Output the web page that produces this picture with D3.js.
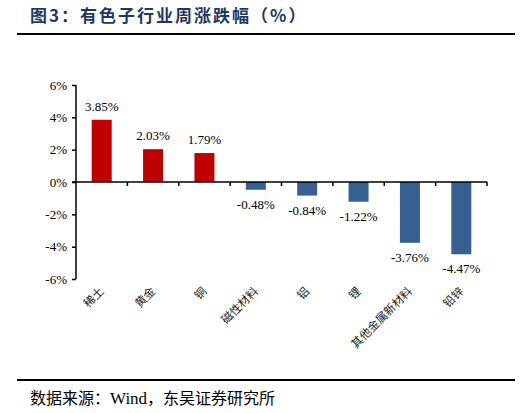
<!DOCTYPE html>
<html lang="zh">
<head>
<meta charset="UTF-8">
<title>有色子行业周涨跌幅</title>
<style>
  body { margin: 0; background: #fff; }
</style>
</head>
<body>
<script src="https://d3js.org/d3.v7.min.js"></script>
<script>

  // data
  var categories = ["稀土", "黄金", "铜", "磁性材料", "铝", "锂", "其他金属新材料", "铅锌"];
  var changes = [3.85, 2.03, 1.79, -0.48, -0.84, -1.22, -3.76, -4.47];
  var yTicks = [-6, -4, -2, 0, 2, 4, 6];

  var W = 522, H = 413;
  var cjk = "'Noto Sans CJK SC', sans-serif";
  var serif = "'Liberation Serif', 'Times New Roman', serif";

  var svg = d3.select("body").append("svg")
      .attr("width", W)
      .attr("height", H);

  // title and rules
  svg.append("text")
      .attr("x", 30).attr("y", 22)
      .style("font-family", cjk)
      .style("font-size", "17px")
      .style("font-weight", "bold")
      .style("letter-spacing", "2px")
      .style("fill", "#1f3864")
      .text("图3：有色子行业周涨跌幅（%）");

  svg.append("line")
      .attr("x1", 17).attr("x2", 515).attr("y1", 34).attr("y2", 34)
      .attr("stroke", "#000").attr("stroke-width", 2);

  svg.append("line")
      .attr("x1", 17).attr("x2", 515).attr("y1", 380).attr("y2", 380)
      .attr("stroke", "#000").attr("stroke-width", 2);

  var src = svg.append("text")
      .attr("x", 30).attr("y", 404)
      .style("font-size", "16px")
      .style("fill", "#000");
  src.append("tspan").style("font-family", cjk).text("数据来源：");
  src.append("tspan").style("font-family", serif).style("font-size", "17px").text("Wind");
  src.append("tspan").style("font-family", cjk).text("，东吴证券研究所");

  // scales
  var left = 76, right = 487;
  var x = d3.scaleBand()
      .domain(categories)
      .range([left, right]);
  var y = d3.scaleLinear()
      .domain([-6, 6])
      .range([279, 85]);

  // bars
  var barW = 20;
  svg.selectAll(".bar")
      .data(categories)
      .enter().append("rect")
      .attr("class", "bar")
      .attr("x", function(d) { return x(d) + x.bandwidth() / 2 - barW / 2; })
      .attr("width", barW)
      .attr("y", function(d, i) { return y(Math.max(0, changes[i])); })
      .attr("height", function(d, i) { return Math.abs(y(changes[i]) - y(0)); })
      .style("fill", function(d, i) { return changes[i] >= 0 ? "#c00000" : "#376092"; });

  // value labels
  svg.selectAll(".val")
      .data(categories)
      .enter().append("text")
      .attr("class", "val")
      .attr("x", function(d) { return x(d) + x.bandwidth() / 2; })
      .attr("y", function(d, i) {
        return changes[i] >= 0 ? y(changes[i]) - 9 : y(changes[i]) + 19;
      })
      .attr("text-anchor", "middle")
      .style("font-family", serif)
      .style("font-size", "13px")
      .style("fill", "#000")
      .text(function(d, i) { return changes[i].toFixed(2) + "%"; });

  // y axis
  var yAxis = svg.append("g")
      .attr("transform", "translate(" + left + ",0)")
      .call(d3.axisLeft(y).tickValues(yTicks).tickSize(4)
            .tickFormat(function(d) { return d + "%"; }));
  yAxis.select(".domain").attr("stroke", "#000").attr("stroke-width", 1.5)
      .attr("d", "M0," + y(6) + "V" + y(-6));
  yAxis.selectAll(".tick line").attr("stroke", "#000").attr("stroke-width", 1.5);
  yAxis.selectAll(".tick text")
      .attr("x", -9)
      .style("font-family", serif)
      .style("font-size", "13px")
      .style("fill", "#000");

  // x axis at zero
  var bounds = categories.slice(1).map(function(d) { return x(d); }).concat([right]);
  var xg = svg.append("g");
  xg.append("line")
      .attr("x1", left - 4).attr("x2", right)
      .attr("y1", y(0)).attr("y2", y(0))
      .attr("stroke", "#000").attr("stroke-width", 1.5);
  xg.selectAll(".xt")
      .data(bounds)
      .enter().append("line")
      .attr("class", "xt")
      .attr("x1", function(d) { return d; }).attr("x2", function(d) { return d; })
      .attr("y1", y(0)).attr("y2", y(0) + 4)
      .attr("stroke", "#000").attr("stroke-width", 1.5);

  // category labels, rotated
  svg.selectAll(".cat")
      .data(categories)
      .enter().append("text")
      .attr("class", "cat")
      .attr("transform", function(d) {
        return "translate(" + (x(d) + x.bandwidth() / 2 + 3) + ",292) rotate(-45)";
      })
      .attr("text-anchor", "end")
      .style("font-family", cjk)
      .style("font-size", "11.5px")
      .style("fill", "#222")
      .text(function(d) { return d; });

</script>
</body>
</html>
